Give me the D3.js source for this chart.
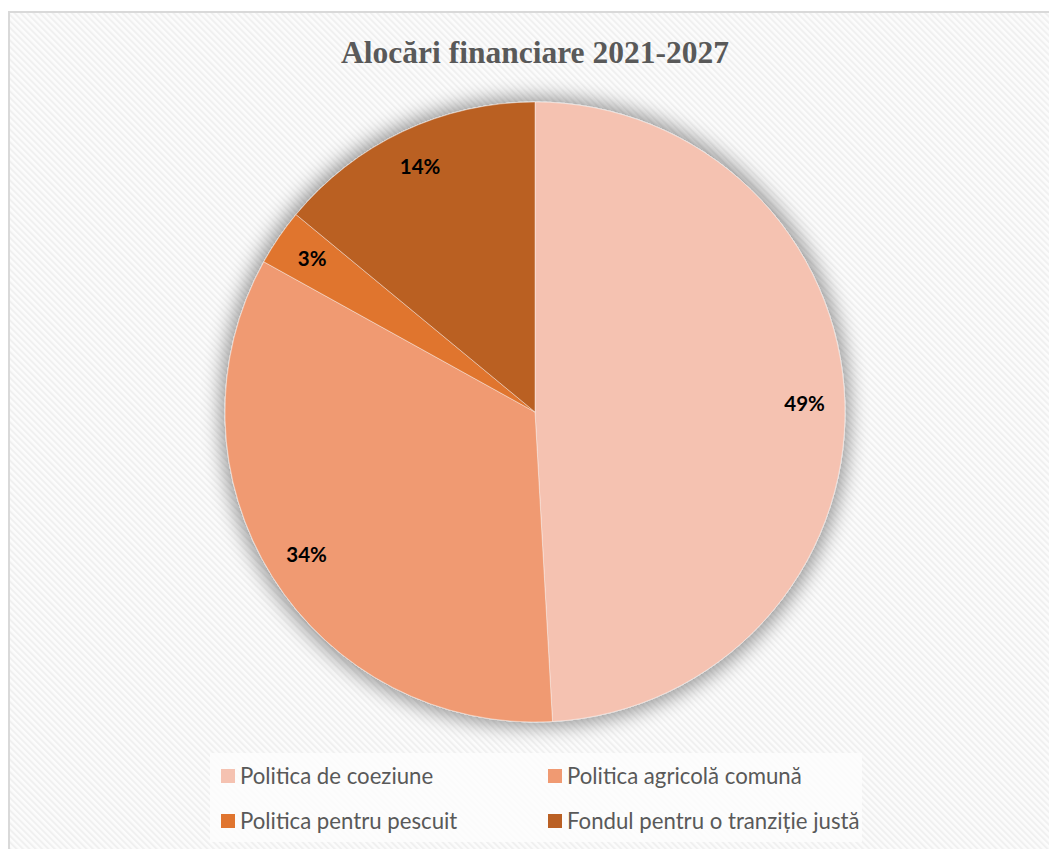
<!DOCTYPE html>
<html>
<head>
<meta charset="utf-8">
<script src="https://cdn.jsdelivr.net/npm/d3@7"></script>
<style>
  html, body { margin: 0; padding: 0; background: #fff; }
  svg { display: block; }
</style>
</head>
<body>
<svg id="chart" width="1049" height="849"></svg>
<script>
const title = "Alocări financiare 2021-2027";
const categories = ["Politica de coeziune", "Politica agricolă comună", "Politica pentru pescuit", "Fondul pentru o tranziție justă"];
const values = [49.1, 33.95, 2.94, 14.01];
const labels = ["49%", "34%", "3%", "14%"];
const colors = ["#F5C2B1", "#F09A72", "#E0752F", "#BA6024"];

const svg = d3.select("#chart");
const W = 1049, H = 849;
const defs = svg.append("defs");

const pat = defs.append("pattern")
  .attr("id", "hatch").attr("patternUnits", "userSpaceOnUse")
  .attr("width", 4.5).attr("height", 4.5)
  .attr("patternTransform", "rotate(-45)");
pat.append("rect").attr("width", 4.5).attr("height", 4.5).attr("fill", "#fcfcfc");
pat.append("rect").attr("width", 2).attr("height", 4.5).attr("fill", "#f0f0f0");

const shadow = defs.append("filter").attr("id", "glow")
  .attr("x", "-20%").attr("y", "-20%").attr("width", "140%").attr("height", "140%");
shadow.append("feMorphology").attr("in", "SourceAlpha").attr("operator", "dilate").attr("radius", 4).attr("result", "d");
shadow.append("feGaussianBlur").attr("in", "d").attr("stdDeviation", 10).attr("result", "b");
shadow.append("feComponentTransfer").attr("in", "b").attr("result", "s")
  .append("feFuncA").attr("type", "linear").attr("slope", 0.4);
const m = shadow.append("feMerge");
m.append("feMergeNode").attr("in", "s");
m.append("feMergeNode").attr("in", "SourceGraphic");

// background + border
svg.append("rect").attr("x", 9).attr("y", 12).attr("width", W + 10).attr("height", H + 10)
  .attr("fill", "url(#hatch)").attr("stroke", "#d9d9d9").attr("stroke-width", 2);

svg.append("text").attr("x", 535).attr("y", 63)
  .attr("text-anchor", "middle")
  .attr("font-family", "'Liberation Serif', 'Times New Roman', serif")
  .attr("font-weight", "bold").attr("font-size", 31.5).attr("fill", "#595959")
  .text(title);

const cx = 535, cy = 412, R = 310;
const pie = d3.pie().sort(null).value(d => d)(values);
const arc = d3.arc().innerRadius(0).outerRadius(R);
const labelArc = d3.arc().innerRadius(R * 0.87).outerRadius(R * 0.87);

const g = svg.append("g").attr("transform", `translate(${cx},${cy})`);
g.append("g").attr("filter", "url(#glow)")
  .selectAll("path").data(pie).join("path")
  .attr("d", arc)
  .attr("fill", (d, i) => colors[i])
  .attr("stroke", "#ffffff").attr("stroke-opacity", 0.5).attr("stroke-width", 0.8);

g.selectAll("text.lbl").data(pie).join("text")
  .attr("class", "lbl")
  .attr("transform", d => `translate(${labelArc.centroid(d)})`)
  .attr("text-anchor", "middle").attr("dy", "0.3em")
  .attr("font-family", "Lato, 'Open Sans', sans-serif")
  .attr("font-weight", "bold").attr("font-size", 20.5).attr("fill", "#000")
  .text((d, i) => labels[i]);

// legend
svg.append("rect").attr("x", 210).attr("y", 753).attr("width", 652).attr("height", 89)
  .attr("fill", "#fdfdfd").attr("fill-opacity", 0.85);
const legPos = [[221, 776], [548, 776], [221, 821], [548, 821]];
const lg = svg.append("g").selectAll("g").data(categories).join("g")
  .attr("transform", (d, i) => `translate(${legPos[i][0]},${legPos[i][1]})`);
lg.append("rect").attr("x", 0).attr("y", -7).attr("width", 14).attr("height", 14)
  .attr("fill", (d, i) => colors[i]);
lg.append("text").attr("x", 19).attr("y", 0).attr("dy", "0.35em")
  .attr("font-family", "Lato, 'Open Sans', sans-serif")
  .attr("font-size", 22.2).attr("fill", "#595959")
  .text(d => d);
</script>
</body>
</html>
